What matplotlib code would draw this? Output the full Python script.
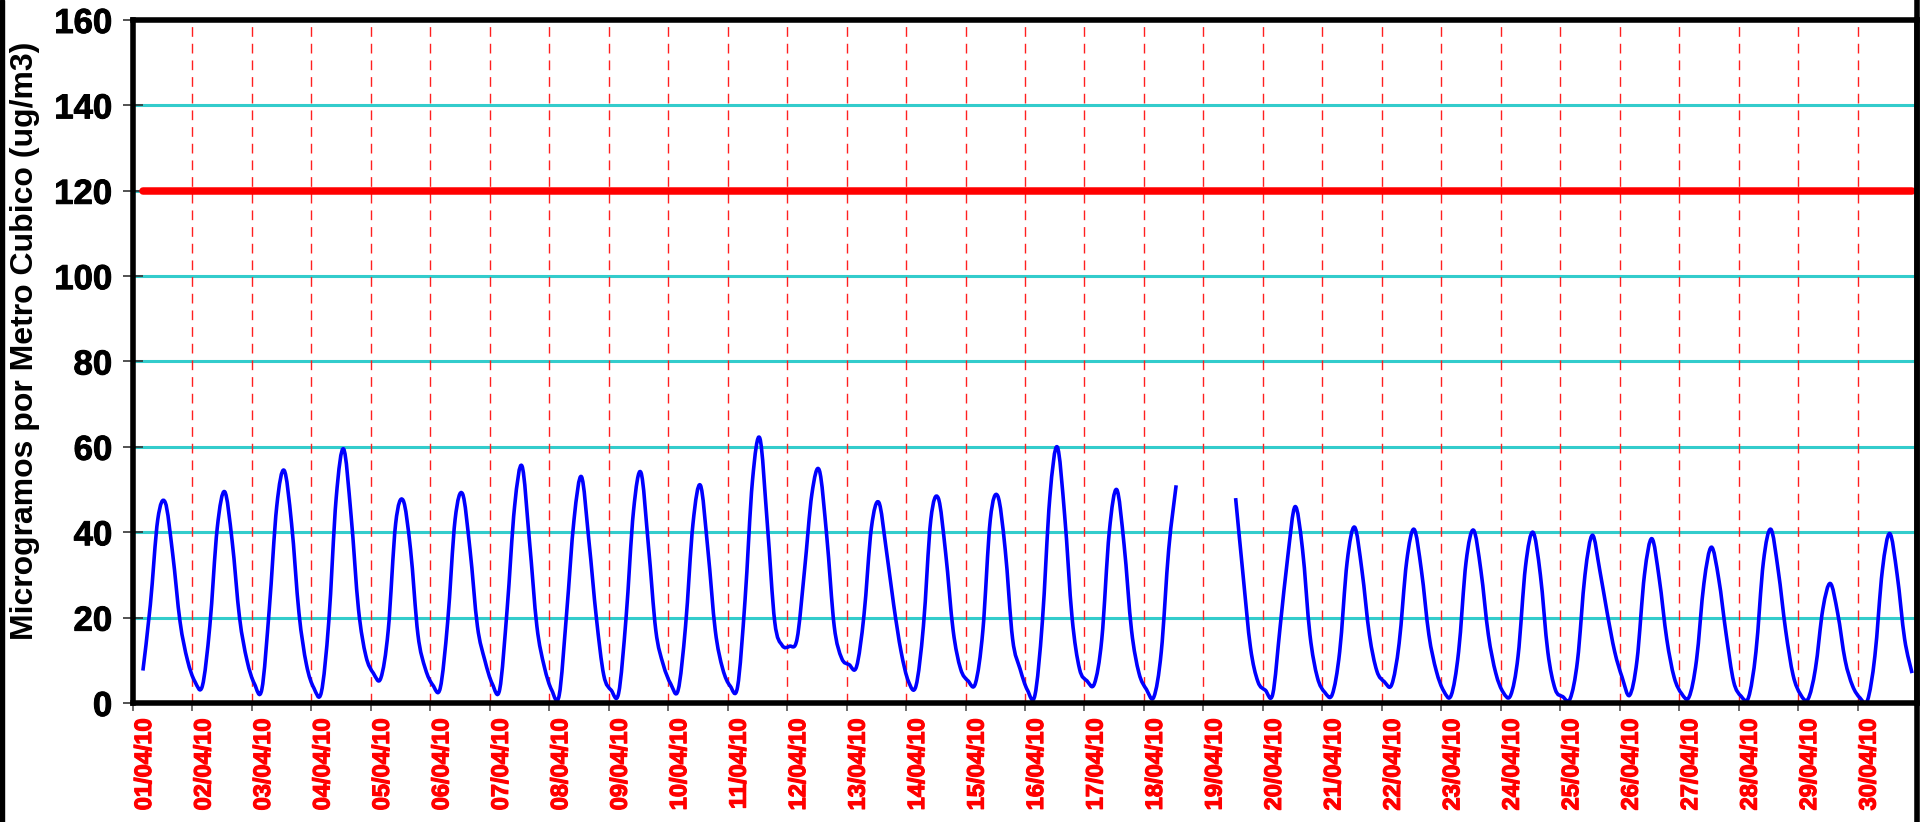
import matplotlib
matplotlib.use('Agg')
import matplotlib.pyplot as plt
import matplotlib.patheffects as pe
from matplotlib.path import Path
from matplotlib.patches import PathPatch, Rectangle
from matplotlib.lines import Line2D
import numpy as np

plt.rcParams['font.family'] = ['Liberation Sans', 'DejaVu Sans']
plt.rcParams['font.weight'] = 'bold'

# days of April 2010 on the axis
dates = ['%02d/04/10' % d for d in range(1, 31)]
# readings taken every 3 hours, hour of day of each reading
hours_of_day = [1, 4, 7, 10, 13, 16, 19, 22]
nan = float('nan')
# ozone, 8 h moving mean (ug/m3), 8 readings per day
ozone = [
    nan, 7.6, 23, 43, 47, 35, 19, 10,        # 01
    5, 4, 18, 41, 49.5, 38, 20, 10,          # 02
    4.5, 3.2, 22, 46, 54.5, 42, 21, 9,       # 03
    3.5, 2.5, 19, 48, 59.5, 44, 22, 11,      # 04
    7, 5.8, 17, 42, 47.5, 36, 16, 8,         # 05
    4.2, 3.5, 19, 43, 49, 36, 18, 10,        # 06
    4.5, 3.2, 22, 46, 55.5, 38, 18, 8.5,     # 07
    3, 1.8, 21, 43, 53, 38, 20, 6.5,         # 08
    3, 2.3, 20, 45, 54, 37, 17, 9,           # 09
    4.5, 3.0, 18, 42, 51, 36, 17, 8,         # 10
    4, 3.8, 24, 52, 62, 42, 19, 13.5,        # 11
    13.3, 15, 31, 49, 54.5, 39, 18, 10.5,    # 12
    9, 8.5, 20.5, 41, 47, 36, 23, 12,        # 13
    5, 4, 18, 43, 48, 35, 17, 8,             # 14
    5.2, 4.6, 17, 43, 48.5, 36, 15, 8,       # 15
    3, 1.8, 19, 48, 60, 44, 20, 8,           # 16
    5.2, 4.5, 15, 40, 50, 37, 17, 7,         # 17
    3.2, 1.4, 12, 36, 51, nan, nan, nan,     # 18
    nan, nan, nan, nan, 48, 30, 13, 5,       # 19
    3, 2.1, 18, 34, 46, 36, 16, 6,           # 20
    2.5, 2.0, 12, 33, 41.2, 31, 16, 7.5,     # 21
    5, 4.3, 14, 33, 40.7, 31, 16, 7.5,       # 22
    2.8, 1.8, 12, 33, 40.5, 31, 16, 7,       # 23
    2.5, 1.8, 11, 32, 40, 30, 12, 3.2,       # 24
    1.5, 1.0, 10, 30, 39.3, 31, 21, 12,      # 25
    6, 1.8, 10, 30, 38.5, 29, 15, 6,         # 26
    2.2, 1.4, 10, 28, 36.5, 29, 16, 5,       # 27
    1.6, 1.3, 12, 33, 40.7, 31, 17, 6.5,     # 28
    2, 0.9, 8, 22, 28, 21, 10, 4,            # 29
    1.2, 0.6, 11, 31, 39.7, 30, 15, 7,       # 30
]
limit = 120
y_ticks = [0, 20, 40, 60, 80, 100, 120, 140, 160]

t = np.array([d + h / 24.0 for d in range(len(dates)) for h in hours_of_day])
v = np.array(ozone, dtype=float)

fig = plt.figure(figsize=(19.25, 8.22), dpi=100)
ax = fig.add_axes([133 / 1925, 1 - 703 / 822, (1917 - 133) / 1925, (703 - 20) / 822])

ax.set_xlim(0, 30)
ax.set_ylim(0, 160)

# horizontal grid
for yv in y_ticks[1:-1]:
    ax.axhline(yv, color='#33cccc', lw=2.2, zorder=1)
# vertical dashed day lines
for d in range(1, 30):
    ax.axvline(d, color='#ff2020', lw=1.0, dashes=(7, 5), zorder=1.5)

# limit line
ok = ~np.isnan(v)
ax.plot([t[ok][0], t[ok][-1]], [limit, limit], color='#ff0000', lw=5.4,
        solid_capstyle='round', zorder=3)

# smoothed line, like the spreadsheet "smooth line" option
verts = []
codes = []
idx = np.where(ok)[0]
runs = np.split(idx, np.where(np.diff(idx) > 1)[0] + 1)
for r in runs:
    pts = np.column_stack([t[r], v[r]])
    n = len(pts)
    if n < 2:
        continue
    verts.append(pts[0]); codes.append(Path.MOVETO)
    for i in range(n - 1):
        p0 = pts[i - 1] if i > 0 else pts[i]
        p1 = pts[i]
        p2 = pts[i + 1]
        p3 = pts[i + 2] if i + 2 < n else pts[i + 1]
        verts += [p1 + (p2 - p0) / 6.0, p2 - (p3 - p1) / 6.0, p2]
        codes += [Path.CURVE4] * 3
ax.add_patch(PathPatch(Path(verts, codes), fill=False, edgecolor='#0000ff',
                       lw=2.6, zorder=4, capstyle='butt', joinstyle='round'))

for s in ax.spines.values():
    s.set_linewidth(4)
    s.set_color('black')
    s.set_zorder(5)

ax.set_yticks(y_ticks)
ax.set_yticklabels([str(y) for y in y_ticks], fontsize=25, fontweight='bold')
ax.tick_params(axis='y', direction='inout', length=14, width=1.2, color='#333333', pad=8)

ax.set_xticks(range(len(dates)))
ax.set_xticklabels(dates, rotation=90, fontsize=17, fontweight='bold',
                   color='#ff0000', ha='left', va='top')
ax.tick_params(axis='x', direction='out', length=6, width=1.2, color='#555555', pad=5)
# heavier strokes, the original text is rendered quite fat
for lab in ax.get_xticklabels():
    lab.set_path_effects([pe.withStroke(linewidth=0.9, foreground='#ff0000')])
for lab in ax.get_yticklabels():
    lab.set_path_effects([pe.withStroke(linewidth=0.7, foreground='black')])

ax.set_ylabel('Microgramos por Metro Cubico (ug/m3)', fontsize=23, fontweight='bold')
ax.yaxis.set_label_coords(-0.052, 0.53)

# frame pieces at image edges
fig.patches.append(Rectangle((0, 0), 4 / 1925, 1, transform=fig.transFigure,
                             color='black', zorder=10))
fig.lines.append(Line2D([1917 / 1925, 1917 / 1925], [0, 1], transform=fig.transFigure,
                        color='black', lw=4, zorder=10))

fig.savefig('out.png', dpi=100)
